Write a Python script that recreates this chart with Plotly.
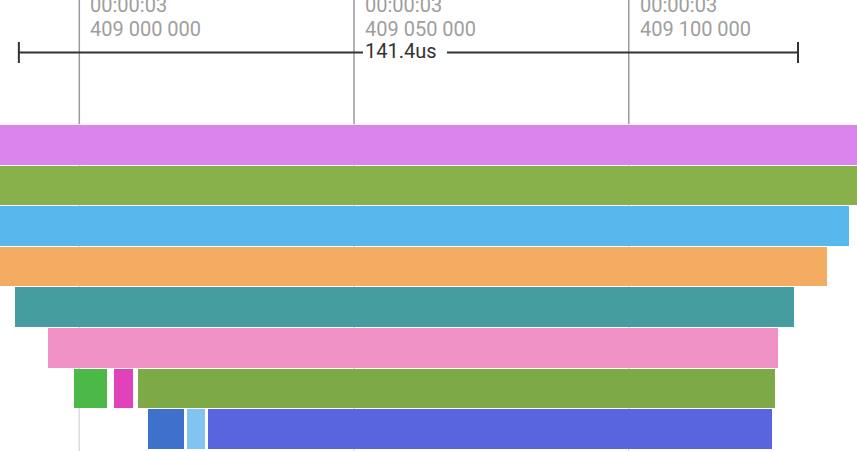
import plotly.graph_objects as go

# ---- data (timestamps in ns) ----
slice_rows = [0, 1, 2, 3, 4, 5, 6, 6, 6, 7, 7, 7]
slice_starts = [408980000, 408980000, 408980000, 408980000, 408988350, 408994360,
                408999090, 409006315, 409010630, 409012450, 409019600, 409023420]
slice_ends = [409150000, 409150000, 409140140, 409136080, 409130130, 409127110,
              409004990, 409009830, 409126560, 409019110, 409022880, 409126070]
slice_colors = ["#DB85EC", "#88B04B", "#57B9EB", "#F4AC62", "#459DA0", "#F192C6",
                "#4CB848", "#E142B9", "#7DAA44", "#3E71CB", "#81C3F1", "#5964DF"]

tick_values = [409000000, 409050000, 409100000]
tick_top_labels = ["00:00:03", "00:00:03", "00:00:03"]
tick_bottom_labels = ["409 000 000", "409 050 000", "409 100 000"]

measure_start = 408989000
measure_end = 409130800
measure_label = "141.4us"
label_gap = [409051630, 409066920]

x_range = [408985567, 409141541]

W, H = 857, 451
row_top_px = 124.5
row_pitch = 40.6
y0 = -(row_top_px + row_pitch / 2) / row_pitch
y1 = y0 + H / row_pitch


def py(px):
    return 1 - px / H


durations = [e - s for s, e in zip(slice_starts, slice_ends)]

fig = go.Figure()
fig.add_trace(go.Bar(
    y=slice_rows, x=durations, base=slice_starts, orientation="h",
    marker=dict(color=slice_colors, line=dict(width=0)),
    width=0.975, hoverinfo="skip", showlegend=False,
))

shapes = []
annotations = []
for tv, top, bot in zip(tick_values, tick_top_labels, tick_bottom_labels):
    shapes.append(dict(type="line", xref="x", yref="paper", x0=tv, x1=tv,
                       y0=py(0), y1=py(124), line=dict(color="#9a9a9a", width=1.5),
                       layer="below"))
    shapes.append(dict(type="line", xref="x", yref="paper", x0=tv, x1=tv,
                       y0=py(124), y1=py(H), line=dict(color="#dddddd", width=1.5),
                       layer="below"))
    annotations.append(dict(x=tv, y=py(5), xref="x", yref="paper", text=top,
                            showarrow=False, xanchor="left", yanchor="middle",
                            xshift=9, font=dict(family="Roboto", size=20, color="#9e9e9e")))
    annotations.append(dict(x=tv, y=py(28.5), xref="x", yref="paper", text=bot,
                            showarrow=False, xanchor="left", yanchor="middle",
                            xshift=9, font=dict(family="Roboto", size=20, color="#9e9e9e")))

# measurement bar
my = py(52.5)
line_style = dict(color="#333333", width=2)
shapes.append(dict(type="line", xref="x", yref="paper", x0=measure_start, x1=label_gap[0],
                   y0=my, y1=my, line=line_style))
shapes.append(dict(type="line", xref="x", yref="paper", x0=label_gap[1], x1=measure_end,
                   y0=my, y1=my, line=line_style))
for xv in (measure_start, measure_end):
    shapes.append(dict(type="line", xref="x", yref="paper", x0=xv, x1=xv,
                       y0=py(42), y1=py(63), line=line_style))
annotations.append(dict(x=label_gap[0], y=my, xref="x", yref="paper",
                        text=measure_label, showarrow=False, xanchor="left",
                        yanchor="middle", xshift=0, yshift=2,
                        font=dict(family="Roboto", size=20, color="#333333")))

fig.update_layout(
    width=W, height=H,
    margin=dict(l=0, r=0, t=0, b=0),
    paper_bgcolor="white", plot_bgcolor="white",
    xaxis=dict(range=x_range, visible=False, showgrid=False, zeroline=False),
    yaxis=dict(range=[y1, y0], visible=False, showgrid=False, zeroline=False),
    bargap=0, shapes=shapes, annotations=annotations,
)

fig.write_html("out.html",
               config={"displayModeBar": False},
               post_script="document.body.style.margin='0';document.body.style.overflow='hidden';")
